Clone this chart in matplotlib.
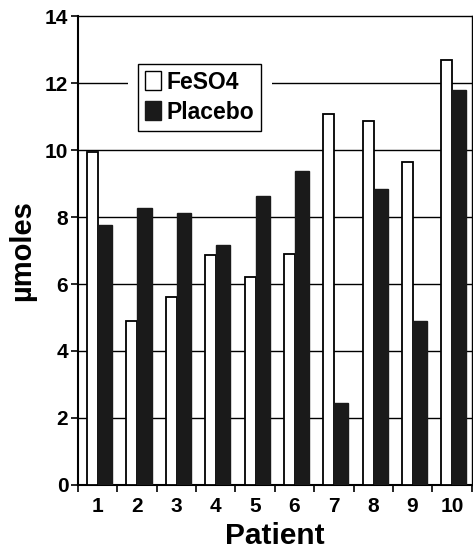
import matplotlib
matplotlib.use("Agg")
import matplotlib.pyplot as plt
import numpy as np
from matplotlib.patches import Rectangle, Patch

plt.rcParams['font.family'] = ['Liberation Sans', 'DejaVu Sans']
plt.rcParams['font.weight'] = 'bold'

patients = ['1', '2', '3', '4', '5', '6', '7', '8', '9', '10']
feso4 = [9.95, 4.9, 5.6, 6.87, 6.2, 6.9, 11.07, 10.87, 9.64, 12.7]
placebo = [7.76, 8.27, 8.12, 7.16, 8.63, 9.37, 2.45, 8.84, 4.9, 11.8]
yticks = [0, 2, 4, 6, 8, 10, 12, 14]

fig = plt.figure(figsize=(4.73, 5.58), dpi=100)
ax = fig.add_axes([0.165, 0.131, 0.832, 0.840])

x = np.arange(len(patients)) + 0.5
ax.bar(x - 0.13, feso4, width=0.28, color='white', edgecolor='black', linewidth=1.3, zorder=3)
ax.bar(x + 0.19, placebo, width=0.36, color='#1a1a1a', edgecolor='#1a1a1a', linewidth=1.0, zorder=3)

ax.set_xlim(0, len(patients))
ax.set_ylim(0, 14)
ax.set_yticks(yticks)
ax.set_yticklabels([str(v) for v in yticks], fontsize=15, fontweight='bold')
ax.set_xticks(np.arange(len(patients) + 1))
ax.set_xticklabels([])
ax.set_xticks(x, minor=True)
ax.set_xticklabels(patients, minor=True, fontsize=15, fontweight='bold')
ax.tick_params(axis='x', which='minor', length=0, pad=9)
ax.tick_params(axis='x', which='major', length=5, direction='out', width=1.2)
ax.tick_params(axis='y', length=5, direction='out', width=1.2, pad=2)

for v in yticks[1:-1]:
    ax.axhline(v, color='black', linewidth=1.0, zorder=1)

for s in ax.spines.values():
    s.set_linewidth(1.0)
ax.spines['left'].set_linewidth(1.5)
ax.spines['bottom'].set_linewidth(1.5)

ax.set_ylabel('µmoles', fontsize=21, fontweight='bold', labelpad=6)
ax.set_xlabel('Patient', fontsize=21.5, fontweight='bold', labelpad=4)

# white gap around legend
ax.add_patch(Rectangle((0.127, 0.77), 0.367, 0.14, transform=ax.transAxes,
                       facecolor='white', edgecolor='none', zorder=2))

handles = [Patch(facecolor='white', edgecolor='black', linewidth=1.0, label='FeSO4'),
           Patch(facecolor='#1a1a1a', edgecolor='#1a1a1a', label='Placebo')]
leg = ax.legend(handles=handles, loc='upper left', bbox_to_anchor=(0.152, 0.898),
                frameon=True, fancybox=False, edgecolor='black', framealpha=1,
                prop={'size': 16.5, 'weight': 'bold'}, handlelength=0.7, handleheight=0.9,
                handletextpad=0.25, borderpad=0.3, labelspacing=0.3, borderaxespad=0)
leg.get_frame().set_linewidth(1.0)
leg.set_zorder(5)

fig.savefig('out.png', dpi=100)
